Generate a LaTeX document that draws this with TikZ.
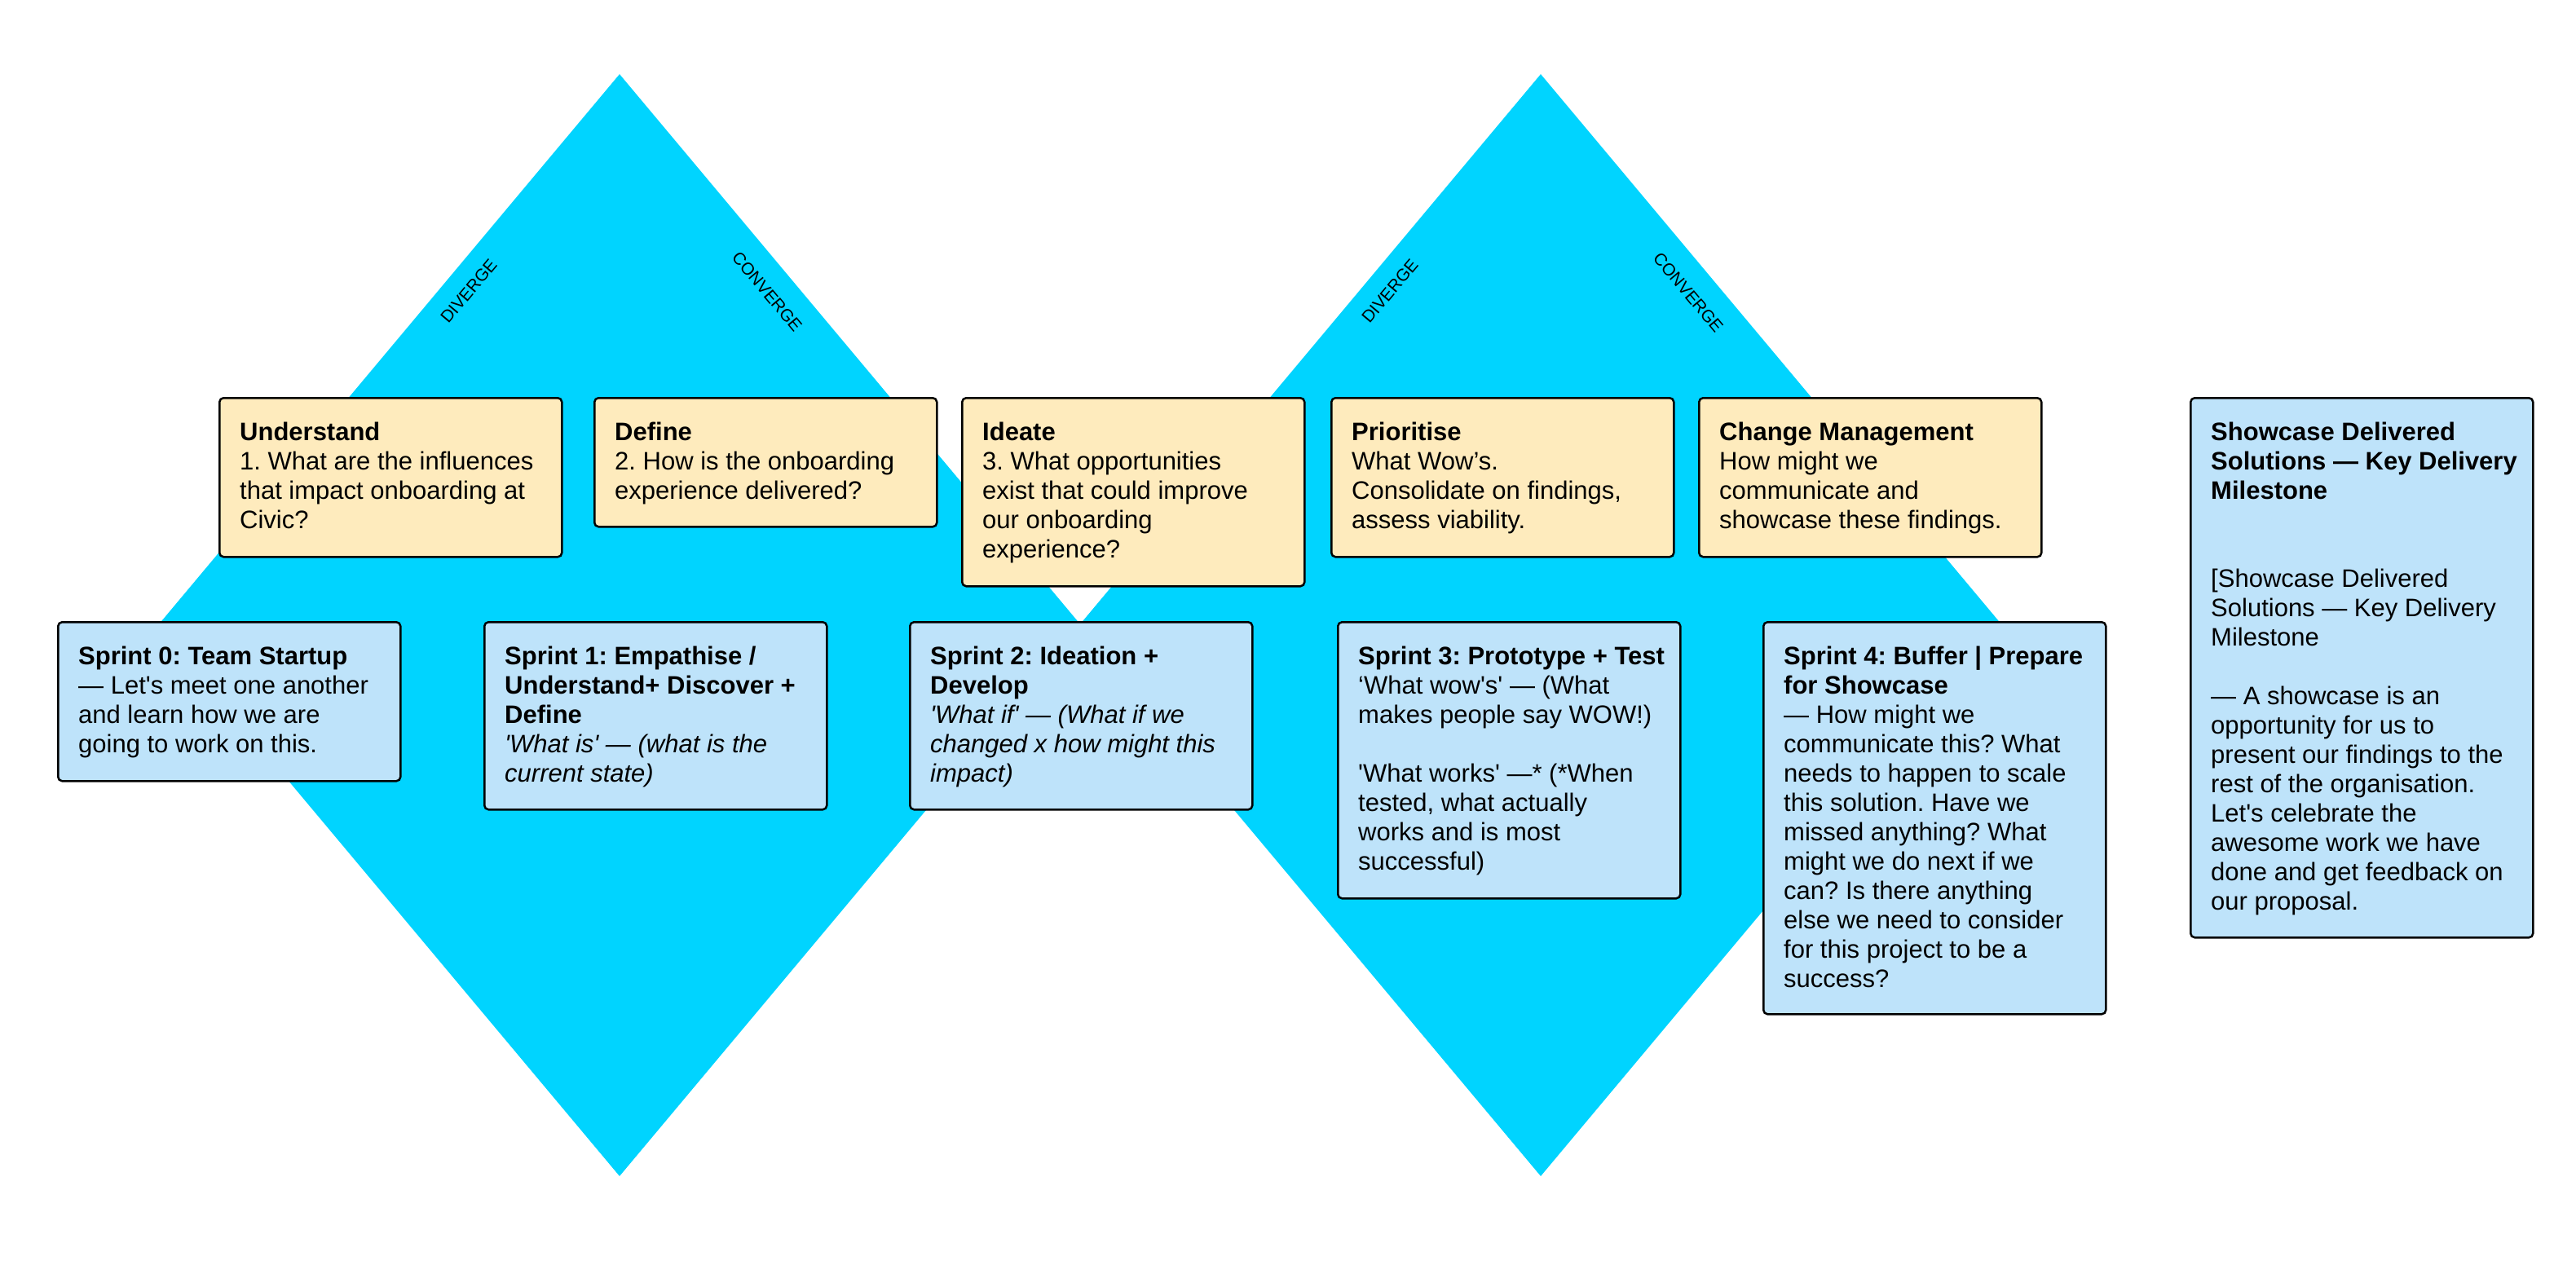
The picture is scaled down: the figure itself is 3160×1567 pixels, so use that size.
\documentclass[tikz,border=0pt]{standalone}
\usepackage{fontspec}
\newfontfamily\bodyface{Liberation Sans}
\definecolor{diamondfill}{HTML}{00D4FF}
\definecolor{questionfill}{HTML}{FEEBBD}
\definecolor{sprintfill}{HTML}{BEE3FA}
\frenchspacing
\tikzset{
  card/.style={draw=black, line width=2.5pt, rounded corners=5pt, anchor=north west,
    minimum width=420pt, inner sep=0pt},
  question/.style={card, fill=questionfill},
  sprint/.style={card, fill=sprintfill},
  copy/.style={anchor=base west, inner sep=0pt, xshift=26pt, yshift=-53pt,
    font=\bodyface\fontsize{31}{36}\selectfont},
  phase/.style={inner sep=0pt, font=\bodyface\fontsize{21}{24}\selectfont},
}
\newcommand{\cardtext}[1]{\parbox[t]{520pt}{\raggedright\frenchspacing #1}}
\begin{document}
\begin{tikzpicture}[x=1pt, y=-1pt]
  \useasboundingbox (0,0) rectangle (3160,1567);
  \fill[white] (0,0) rectangle (3160,1567);

  % the two diamonds of the double-diamond process
  \fill[diamondfill] (760,91) -- (1326,767) -- (760,1443) -- (194,767) -- cycle;
  \fill[diamondfill] (1890,91) -- (2456,767) -- (1890,1443) -- (1324,767) -- cycle;

  % phase labels along the diamond edges
  \node[phase, rotate=50] (div1) at (575,357) {DIVERGE};
  \node[phase, rotate=-50] (con1) at (941,358) {CONVERGE};
  \node[phase, rotate=50] (div2) at (1705,357) {DIVERGE};
  \node[phase, rotate=-50] (con2) at (2071,359) {CONVERGE};

  % question cards
  \node[question, minimum height=195pt] (understand) at (268,487) {};
  \node[copy] (understand-t) at (understand.north west) {\cardtext{\textbf{Understand}\\
    1. What are the influences\\that impact onboarding at\\Civic?}};

  \node[question, minimum height=158pt] (define) at (728,487) {};
  \node[copy] (define-t) at (define.north west) {\cardtext{\textbf{Define}\\
    2. How is the onboarding\\experience delivered?}};

  \node[question, minimum height=231pt] (ideate) at (1179,487) {};
  \node[copy] (ideate-t) at (ideate.north west) {\cardtext{\textbf{Ideate}\\
    3. What opportunities\\exist that could improve\\our onboarding\\experience?}};

  \node[question, minimum height=195pt] (prioritise) at (1632,487) {};
  \node[copy] (prioritise-t) at (prioritise.north west) {\cardtext{\textbf{Prioritise}\\
    What Wow’s.\\Consolidate on findings,\\assess viability.}};

  \node[question, minimum height=195pt] (change) at (2083,487) {};
  \node[copy] (change-t) at (change.north west) {\cardtext{\textbf{Change Management}\\
    How might we\\communicate and\\showcase these findings.}};

  % sprint cards
  \node[sprint, minimum height=195pt] (s0) at (70,762) {};
  \node[copy] (s0-t) at (s0.north west) {\cardtext{\textbf{Sprint 0: Team Startup}\\
    — Let's meet one another\\and learn how we are\\going to work on this.}};

  \node[sprint, minimum height=230pt] (s1) at (593,762) {};
  \node[copy] (s1-t) at (s1.north west) {\cardtext{\textbf{Sprint 1: Empathise /}\\
    \textbf{Understand+ Discover +}\\\textbf{Define}\\
    \textit{'What is' — (what is the}\\\textit{current state)}}};

  \node[sprint, minimum height=230pt] (s2) at (1115,762) {};
  \node[copy] (s2-t) at (s2.north west) {\cardtext{\textbf{Sprint 2: Ideation +}\\
    \textbf{Develop}\\
    \textit{'What if' — (What if we}\\\textit{changed x how might this}\\\textit{impact)}}};

  \node[sprint, minimum height=339pt] (s3) at (1640,762) {};
  \node[copy] (s3-t) at (s3.north west) {\cardtext{\textbf{Sprint 3: Prototype + Test}\\
    ‘What wow's' — (What\\makes people say WOW!)\\[36pt]
    'What works' —* (*When\\tested, what actually\\works and is most\\successful)}};

  \node[sprint, minimum height=481pt] (s4) at (2162,762) {};
  \node[copy] (s4-t) at (s4.north west) {\cardtext{\textbf{Sprint 4: Buffer | Prepare}\\
    \textbf{for Showcase}\\
    — How might we\\communicate this? What\\needs to happen to scale\\this solution. Have we\\
    missed anything? What\\might we do next if we\\can? Is there anything\\
    else we need to consider\\for this project to be a\\success?}};

  \node[sprint, minimum height=662pt] (showcase) at (2686,487) {};
  \node[copy] (showcase-t) at (showcase.north west) {\cardtext{\textbf{Showcase Delivered}\\
    \textbf{Solutions — Key Delivery}\\\textbf{Milestone}\\[72pt]
    {[}Showcase Delivered\\Solutions — Key Delivery\\Milestone\\[36pt]
    — A showcase is an\\opportunity for us to\\present our findings to the\\
    rest of the organisation.\\Let's celebrate the\\awesome work we have\\
    done and get feedback on\\our proposal.}};
\end{tikzpicture}
\end{document}
